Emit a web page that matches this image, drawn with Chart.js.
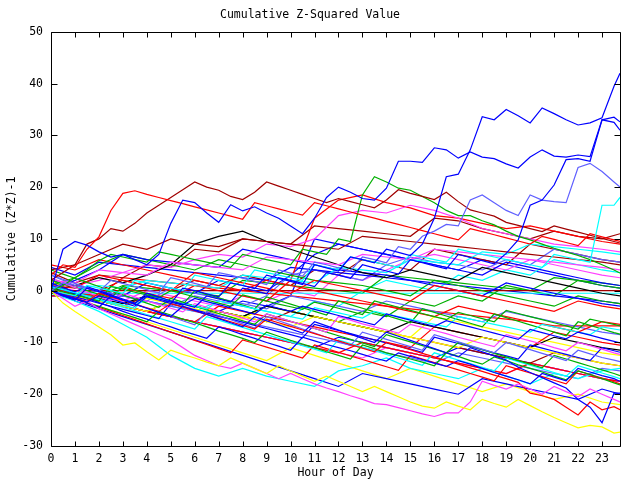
<!DOCTYPE html>
<html>
<head>
<meta charset="utf-8">
<script src="https://cdn.jsdelivr.net/npm/chart.js@4/dist/chart.umd.min.js"></script>
<style>
  html, body { margin: 0; padding: 0; background: #fff; }
  canvas { display: block; }
</style>
</head>
<body>
<canvas id="chart" width="640" height="480"></canvas>
<script>
// x categories (hour of day)
const hourTicks = [0, 1, 2, 3, 4, 5, 6, 7, 8, 9, 10, 11, 12, 13, 14, 15, 16, 17, 18, 19, 20, 21, 22, 23];
const hourGrid = [0, 1, 2, 3, 4, 5, 6, 7, 8, 9, 10, 11, 12, 13, 14, 15, 16, 17, 18, 19, 20, 21, 22, 23, 23.75];
const halfHourGrid = [
  0, 0.5, 1, 1.5, 2, 2.5, 3, 3.5,
  4, 4.5, 5, 5.5, 6, 6.5, 7, 7.5,
  8, 8.5, 9, 9.5, 10, 10.5, 11, 11.5,
  12, 12.5, 13, 13.5, 14, 14.5, 15, 15.5,
  16, 16.5, 17, 17.5, 18, 18.5, 19, 19.5,
  20, 20.5, 21, 21.5, 22, 22.5, 23, 23.5,
  23.75
];
const yTicks = [-30, -20, -10, 0, 10, 20, 30, 40, 50];

// the most visible lines, read every half hour
const blueTop = [
  0, -0.8, -1.5, -2.2, -1, -1.6, -2.3, -3,
  -1.2, -1.8, -2.5, 0.5, 0, -0.6, -1.2, 1.5,
  1, 0.4, 3, 2.4, 1.8, 1.2, 5, 4.4,
  3.8, 6.5, 6, 5.4, 8, 7.4, 6.8, 9,
  14, 22, 22.5, 27.2, 33.6, 33, 35, 33.8,
  32.4, 35.3, 34.2, 33, 32, 32.4, 33.4, 39.5,
  42
];
const blueSecond = [
  0, 8, 9.5, 8.8, 7.5, 6.5, 7, 6,
  5, 7, 13, 17.5, 17, 15, 13.2, 16.6,
  15.4, 16.2, 15, 14, 12.5, 11, 14, 18,
  20, 19, 17.8, 17.5, 19.8, 25, 25, 24.8,
  27.6, 27.2, 25.6, 26.8, 25.8, 25.5, 24.5, 23.7,
  25.8, 27.2, 26, 25.8, 26.2, 25.9, 33, 32.5,
  31
];
const blueThird = [
  0, -1, -1.8, 0.5, -0.2, -1, -1.8, -2.5,
  -0.5, -1.2, -2, -2.6, -3.2, -1, -1.6, -2.2,
  0.5, 0, -0.6, 2.5, 2, 1.4, 0.8, 3.5,
  3, 2.4, 5, 4.4, 3.8, 3.2, 6, 5.4,
  4.8, 4.2, 7, 6.4, 5.8, 5.2, 7.2, 9.8,
  16.5, 17.5, 20.4, 25.3, 25.5, 25, 33, 33.5,
  32.6
];
const slateTop = [
  0, 1.5, 1, 0.4, -0.2, 2, 1.4, 0.8,
  0.2, -0.4, 2.5, 2, 1.4, 0.8, 3.5, 3,
  2.4, 1.8, 1.2, 4, 3.4, 2.8, 5.5, 5,
  4.4, 3.8, 6.5, 6, 5.4, 8.5, 8, 10.5,
  11.5, 12.8, 12.5, 17.5, 18.5, 17, 15.5, 14.5,
  18.5, 17.5, 17.2, 17, 23.8, 24.6, 23, 21,
  20
];
const cyanJump = [
  0, -0.5, -1, 1, 0.5, 0, -0.5, 2,
  1.5, 1, 0.5, 0, 3, 2.5, 2, 1.5,
  1, 4, 3.5, 3, 2.5, 2, 5, 4.5,
  4, 6.5, 6, 5.5, 5, 4.5, 7, 6.5,
  6, 5.5, 8, 7.5, 7, 6.5, 6, 5.5,
  5, 4.5, 7, 6.5, 6, 5.5, 16.5, 16.5,
  18
];
const redTop = [
  3, 5, 4.5, 8, 10.4, 15.5, 18.8, 19.3,
  18.6, 18, 17.4, 16.8, 16.2, 15.6, 15, 14.4,
  13.8, 17, 16.4, 15.8, 15.2, 14.6, 17, 16.4,
  15.8, 15.2, 14.6, 14, 13.4, 12.8, 12.2, 11.6,
  11, 10.4, 9.8, 12, 11.4, 10.8, 10.2, 9.6,
  9, 10.5, 9.9, 9.3, 8.7, 11, 10.4, 9.8,
  9.5
];
const darkRedTop = [
  2, 3.5, 5, 9, 10, 12, 11.5, 13,
  15, 16.5, 18, 19.5, 21, 20, 19.4, 18.2,
  17.6, 19, 21, 20.2, 19.4, 18.6, 17.8, 17,
  17.8, 17.2, 16.6, 16, 17.5, 19.5, 18.8, 18.2,
  17.6, 19, 17.2, 15.6, 15, 14.4, 13.2, 12.6,
  12, 11.4, 12.5, 11.9, 11.3, 10.7, 10.1, 9.5,
  9.2
];
const greenTop = [
  0, 1, 2.5, 4, 5.8, 7, 6.5, 6,
  5.5, 7.5, 7, 6.5, 6, 5.5, 5, 4.5,
  7, 6.5, 6, 5.5, 5, 8, 7.5, 7,
  10, 9.5, 18.5, 22, 21, 19.8, 19.4, 18.2,
  17, 15.5, 14.5, 14.5, 13.5, 12.7, 11.5, 10.5,
  9.8, 9, 8.2, 7.5, 6.8, 6, 5, 4,
  3.4
];
const yellowLow = [
  0, -2.4, -4, -5.5, -7, -8.5, -10.5, -10.1,
  -11.8, -13.4, -11.5, -12.3, -13, -13.8, -14.5, -13,
  -14, -15, -16, -14.5, -15.5, -16.5, -17.5, -16.5,
  -17.5, -18.5, -19.5, -18.5, -19.5, -20.5, -21.5, -22.3,
  -22.7, -21.5, -22.3, -23, -21, -21.8, -22.5, -21,
  -22.2, -23.4, -24.5, -25.5, -26.5, -26, -26.3, -27.5,
  -27.3
];
const magentaLow = [
  0, -1.5, -3, -2, -3.5, -4.5, -5.5, -6.5,
  -7.5, -8.5, -9.5, -11, -12.5, -13.5, -14.5, -15,
  -14, -15, -16, -17, -16, -17, -18, -18.8,
  -19.5, -20.3, -21, -21.8, -22, -22.6, -23.2, -23.8,
  -24.3, -23.6, -23.6, -21.5, -17.5, -18.3, -19, -18,
  -19, -20, -18.5, -19.5, -20.5, -19, -20, -21,
  -21.5
];
const blueLow = [
  0, -0.8, -1.6, -2.4, -3.2, -1, -1.8, -2.6,
  -3.4, -4.2, -5, -3, -3.8, -4.6, -5.4, -6.2,
  -7, -5, -5.8, -6.6, -7.4, -8.2, -6, -6.8,
  -7.6, -8.4, -9.2, -10, -8, -8.8, -9.6, -10.4,
  -11.2, -12, -12.8, -11, -11.8, -12.6, -13.4, -14.8,
  -15.8, -16.8, -17.8, -18.8, -21, -22.5, -25.5, -19.8,
  -19.8
];
const redLow = [
  0, -0.7, -1.4, -2.1, -0.5, -1.2, -1.9, -2.6,
  -3.3, -4, -2.5, -3.2, -3.9, -4.6, -5.3, -6,
  -6.7, -7.4, -5.5, -6.2, -6.9, -7.6, -8.3, -9,
  -9.7, -10.4, -11.1, -11.8, -10, -10.7, -11.4, -12.1,
  -12.8, -13.5, -14.2, -14.9, -15.6, -16.3, -17, -17.7,
  -19.8, -20.3, -21, -22.5, -24, -21.5, -23, -22.4,
  -23
];

// middle of the bundle, also half-hourly
const midSeries = [
  [1.5, 0.6, -0.2, 0.8, 0, -0.8, -1.6, -2.4,
   -1, -1.6, -2.2, -2.8, -1.5, -2.1, -2.7, -3.3,
   -3.9, -4.5, -2.8, -3.4, -4, -3, -3.6, -4.2,
   -4.8, -5.4, -6, -6.6, -4.5, -5.1, -5.7, -6.3,
   -6.9, -5.8, -6.4, -7, -7.6, -8.2, -8.8, -9.4,
   -7.5, -8.1, -8.7, -9.3, -8, -8.6, -9.2, -9.8, -10.1],
  [0.5, -0.2, -0.8, -1.4, -2, 0.8, 0.3, -0.3,
   -0.8, -1.3, 0, -0.6, -1.2, -1.8, -2.4, -3,
   -0.8, -1.4, -2, -2.6, -3.1, -3.6, -2.2, -2.8,
   -3.4, -4, -4.6, -2, -2.6, -3.2, -3.8, -4.4,
   -5, -5.6, -4.2, -4.8, -5.4, -6, -3.8, -4.4,
   -5, -5.6, -6.2, -6.8, -7.4, -5.5, -6, -6.5, -6.8],
  [0.8, 0.2, -0.4, -1, -1.6, -2.2, -2.8, -3.4,
   -1, -1.5, -2, -2.5, -3, -3.5, -2, -2.5,
   -3, -3.5, -4, -4.5, -5, -5.5, -3.3, -3.8,
   -4.3, -4.8, -5.3, -4, -4.5, -5, -5.5, -6,
   -6.5, -7, -5, -5.5, -6, -6.5, -7, -7.5,
   -8, -6.5, -7, -7.5, -8, -8.5, -7, -7.4, -7.6],
  [1, 0.2, -0.6, -1.4, -2.3, -3.1, -4, -4.8,
   -5.5, -6.3, -7, -7.8, -8.5, -9.2, -7, -7.7,
   -8.5, -9.2, -10, -10.7, -11.5, -9, -9.7, -10.4,
   -11, -11.6, -12.3, -13, -13.6, -12, -12.7, -13.3,
   -14, -14.6, -13.5, -14.2, -15, -15.8, -16.5, -17.2,
   -18, -16, -16.7, -17.4, -15, -15.7, -16.4, -17, -17.5],
  [0, -0.8, -1.5, -2.3, -3, -3.8, -4.5, -5.2,
   -6, -4, -4.7, -5.5, -6.2, -7, -7.8, -8.5,
   -9.2, -10, -8, -8.8, -9.6, -10.3, -11, -11.8,
   -12.5, -13.2, -10.5, -11.2, -12, -12.6, -13.2, -13.8,
   -14.5, -12, -12.7, -13.5, -14.2, -12.8, -13.5, -14.3,
   -15, -15.7, -16.5, -17.2, -15.5, -16.2, -17, -17.8, -18.2],
  [2.5, 1.5, 0.6, -0.3, -1.2, -2, -0.5, -1.2,
   -2, -2.7, -3.4, -4.1, -2.5, -3.2, -3.9, -4.6,
   -5.3, -6, -4.5, -5.2, -5.9, -6.6, -7.3, -8,
   -5, -5.7, -6.4, -7, -7.6, -8.2, -6.5, -7.1,
   -7.7, -8.3, -9, -9.6, -10.2, -10.8, -8.5, -9.1,
   -9.7, -10.3, -11, -11.6, -10, -10.6, -11.3, -12, -12.3],
  [3, 2.2, 1.4, 0.6, -0.2, -1, -1.8, -2.6,
   -3.4, -4.2, -5, -5.8, -6.6, -4, -4.8, -5.6,
   -6.4, -7.2, -5, -5.8, -6.6, -7.4, -8.2, -9,
   -9.8, -10.6, -8, -8.7, -9.4, -10.1, -10.8, -11.5,
   -8.5, -9.2, -9.9, -10.6, -11.3, -12, -10, -10.7,
   -11.4, -12.1, -12.8, -13.5, -11.5, -12.2, -12.9, -13.4, -13.7],
  [4, 3.2, 2.4, 1.6, 0.8, 0, -0.8, -1.6,
   -2.4, -3.2, -1.5, -2.2, -3, -3.7, -4.4, -5.1,
   -5.8, -6.5, -4.5, -5.2, -5.9, -6.6, -7.3, -8,
   -8.7, -9.4, -10.1, -10.8, -8.5, -9.2, -9.9, -10.6,
   -11.3, -12, -10, -10.7, -11.4, -12.1, -12.8, -13.5,
   -14.2, -14.9, -12.5, -13.2, -13.9, -14.6, -15.3, -16, -16.4],
  [2, 1.3, 0.6, 0, -0.7, -1.4, 0.8, 0.1,
   -0.6, -1.3, -2, -2.7, 0, -0.7, -1.4, -2.1,
   -2.8, -3.5, -1.2, -1.9, -2.6, -3.3, -4, -4.7,
   -2, -2.7, -3.4, -4.1, -4.8, -5.5, -6.2, -3.5,
   -4.2, -4.9, -5.6, -6.3, -7, -4.5, -5.2, -5.9,
   -6.6, -7.3, -8, -8.7, -6, -6.7, -7.4, -8.1, -8.4],
  [0, -0.6, -1.2, -1.8, -2.4, -3, -3.6, -4.2,
   -4.8, -5.4, -2.5, -3.1, -3.7, -4.3, -4.9, -5.5,
   -6.1, -6.7, -7.3, -7.9, -8.5, -9.1, -6.5, -7.1,
   -7.7, -8.3, -8.9, -9.5, -10.1, -10.7, -11.3, -11.9,
   -9, -9.6, -10.2, -10.8, -11.4, -12, -12.6, -13.2,
   -10.5, -11.1, -11.7, -12.3, -12.9, -13.5, -11, -11.6, -11.9],
  [1, 0.3, -0.4, -1.1, -1.8, -2.5, -3.2, -3.9,
   -4.6, -5.3, -6, -6.7, -7.4, -5, -5.7, -6.4,
   -7.1, -7.8, -8.5, -9.2, -9.9, -10.6, -11.3, -12,
   -9.5, -10.2, -10.9, -11.6, -12.3, -13, -13.7, -14.4,
   -12, -12.7, -13.4, -14.1, -14.8, -15.5, -13, -13.7,
   -14.4, -15.1, -15.8, -16.5, -14.5, -15.2, -15.9, -16.6, -17],
  [0, -0.8, -1.6, -2.4, -3.2, -4, -4.8, -5.6,
   -6.4, -7.2, -8, -8.8, -9.6, -10.4, -11.2, -12,
   -9.5, -10.2, -10.9, -11.6, -12.3, -13, -10.5, -11.2,
   -11.9, -12.6, -13.3, -14, -14.7, -15.4, -12.5, -13.2,
   -13.9, -14.6, -15.3, -16, -16.7, -17.4, -14.5, -15.2,
   -15.9, -16.6, -17.3, -18, -15.5, -16.2, -16.9, -17.6, -18]
];

const halfHourSeries = [blueTop, blueSecond, blueThird, slateTop, cyanJump, redTop,
  darkRedTop, greenTop, yellowLow, magentaLow, blueLow, redLow, ...midSeries];
const halfHourColors = ["blue", "blue", "blue", "slate", "cyan", "red",
  "darkred", "green", "yellow", "magenta", "blue", "red",
  "blue", "green", "cyan", "blue", "green", "magenta", "slate", "green", "green", "blue", "cyan", "red"];

// the rest of the bundle, read once an hour
const hourlySeries = [
  [1, 0.5, 3, 2, 1, 0, 3.5, 2.5, 1.5, 0.5, -0.5, 2, 1, 0, -1, -2, 1, 0, -1, -2, -3, -4, -2, -3, -3.5],
  [2, 1.5, 4, 3.5, 3, 5.5, 5, 4.5, 4, 6.5, 6, 5.5, 5, 7, 6.5, 6, 8, 7.5, 7, 6.5, 6, 5.5, 5, 4.5, 4],
  [4, 5, 7, 9, 8, 10, 9, 8.5, 10, 9.5, 9, 8.5, 8, 10.5, 10, 9.5, 9, 8.5, 8, 7.5, 7, 6.5, 6, 5.5, 5],
  [0, -1, -2, -3, -4, -2, -3, -4, -5, -6, -7, -5, -6, -7, -8, -9, -10, -11, -9, -10, -11, -12, -13, -14, -14.5],
  [0, 1, 2.5, 1.5, 3, 5, 9, 10.5, 11.5, 9.5, 8, 6.5, 5, 3.5, 2.5, 4, 3, 2, 4.5, 3.5, 2.5, 1.5, 0.5, -0.5, -1],
  [-0.5, -0.5, -1.5, -2.5, -1, -2, -3, -4, -5, -3, -4, -5, -6, -7, -8, -6, -7, -8, -9, -10, -11, -9, -10, -11, -11.5],
  [0.5, 2, 4, 7, 6, 5.5, 5, 4.5, 8, 7, 6, 5, 4, 3.5, 3, 2, 1, 0, -1, 1.5, 0.5, -0.5, -1.5, -2.5, -3],
  [1, -1, -2, -3, -4, -5, -6, -3, -4, -5, -6, -7, -8, -9, -10, -11, -7, -8, -9, -10, -11, -8, -9, -10, -10.5],
  [-0.5, -2, -4, -6.5, -9, -12.5, -15, -16.5, -15, -16.5, -17.5, -18.5, -15.5, -14.5, -13, -15, -16, -17, -15, -16.5, -18, -16, -17, -15.5, -15],
  [0, -2, -3.5, -5, -6.5, -8, -9.5, -11, -12.5, -14, -15.5, -17, -18.5, -16, -17, -18, -19, -20, -17, -18, -19, -20, -21, -19, -20],
  [1, 2.5, 5, 7, 6, 5, 4, 6, 5, 4, 3, 2, 1.5, 1, 0, -1, 2, 1, 0, -1, -2, -3, -1, -2, -2.5],
  [5, 4, 6, 5, 4, 3, 2, 1, 0, 2, 1, 0, -1, -2, -3, -4, -5, -3, -4, -5, -6, -7, -8, -6, -6.5],
  [2, -1, -2, -3, -1.5, -2.5, -3.5, -4.5, -5.5, -3, -4, -5, -6, -7, -8, -9, -5, -6, -7, -8, -9, -10, -11, -12, -12.5],
  [0, -1.5, -3, -4.5, -6, -7.5, -9, -10.5, -12, -13.5, -11, -12.5, -14, -15.5, -17, -15, -16.5, -18, -19.5, -18, -19.5, -21, -20, -21.5, -22],
  [3, 1, 0, -1, -2, 0.5, -0.5, -1.5, -2.5, -3.5, -1, -2, -3, -4, -2, -3, -4, -5, -6, -4, -5, -6, -7, -8, -8.5],
  [2, -1, -2, -3, -1, -2, -3, -4, -5, -6, -4, -5, -6, -7, -8, -9, -10, -11, -12, -13, -14, -12, -13, -14, -14.5],
  [-1, -1, -2, -3, -4, -5, -6, -7, -8, -9, -10, -11, -12, -10, -11, -12, -13, -14, -15, -16, -14, -15, -16, -17, -17.5],
  [1, 1, 2, 3.5, 5, 4.5, 6, 7, 6.5, 9, 8.5, 10, 14.5, 15.5, 15, 16.5, 15.5, 14, 12, 11, 10, 9, 8.5, 8, 7.5],
  [2.5, 0.5, 1, 0.5, 2, 1.5, 1, 0.5, 3, 2.5, 2, 1.5, 4.5, 4, 3.5, 6, 5.5, 5, 7.5, 7, 9, 8.5, 8, 7.5, 7],
  [1.5, -1, -2, 0.5, -0.5, -1.5, 1, 0, -1, -2, 2, 14, 17.5, 18.5, 17, 16, 14.5, 14, 13, 12, 12.5, 11.5, 10.5, 9.5, 9],
  [3.5, 1.5, 3, 2.5, 5, 4.5, 8, 7.5, 10, 9.5, 9, 12.5, 12, 11.5, 11, 10.5, 14, 13.5, 12, 11, 10, 11.5, 10.5, 10, 11],
  [2, 1, 0, -1, 1.5, 0.5, -0.5, 2, 1, 0, 3, 7, 9, 8, 7, 6, 5, 4, 3, 5.5, 4.5, 3.5, 2.5, 1.5, 1],
  [-0.5, -1, -2, -3, -4, -5, -6, -7, -8, -9, -10, -11, -12, -13, -11, -12, -13, -14, -15, -16, -14, -15, -16, -17, -17.5],
  [0, -0.5, -1, 2.5, 2, 1.5, 1, 0.5, 0, -0.5, -1, -1.5, -2, -2.5, -3, -3.5, -4, -4.5, -5, -5.5, -6, -6.8, -6.8, -6.8, -6.8],
  [0, -0.5, -0.5, -0.5, -0.5, -0.5, -0.5, -0.5, -0.5, -0.5, -0.5, -0.5, -0.5, -0.5, -0.5, -0.5, -0.5, -0.5, -0.5, -0.5, -0.5, -0.5, -0.5, -0.5, -0.5],
  [0, 0, 0, 0, 0, 0, 0, 0, 0, 0, 0, 0, 0, 0, 0, 0, 0, 0, 0, 0, 0, 0, 0, 0, 0],
  [4.5, 3, 5.5, 5, 4.5, 4, 3.5, 3, 2.5, 2, 4.5, 4, 3.5, 3, 2.5, 2, 1.5, 1, 0.5, 0, -0.5, -1, -1.5, -2, -2.5],
  [1, -1, 0, -1, -2, -3, -4, -5, -6, -7, -8, -9, -10, -11, -12, -13, -14, -12, -13, -14, -15, -16, -17, -15, -15.5],
  [2, -0.5, -1, 1, 0.5, 0, -0.5, -1, 2, 1.5, 1, 0.5, 0, -0.5, 3, 2.5, 2, 1.5, 1, 0.5, 0, 2.5, 2, 1.5, 1],
  [-1, -1, -2, -3, -4, -5, -6, -7, -8, -9, -10, -11, -9, -10, -11, -12, -13, -11, -12, -13, -14, -15, -16, -17, -17.5],
  [0, -1, -2, -1, -2, -3, -1, -2, -3, -1, 3, 4, 3, 2, 5, 6.5, 5.5, 5, 4, 6, 5, 8, 7, 6, 5.5],
  [1, 0, -1, -2, 0, -1, -2, -3, -1, -2, 0, -1, 3, 2, 4, 6, 7, 6, 5, 4, 6, 5, 4, 3, 2.5],
  [0, -1, -2, -3, -2, -3, -4, -2, -3, -4, -5, -2, -3, 0, 2, 1, 0, 3, 2, 4, 3, 6, 5, 4, 3.5],
  [0, 1, 0, 2, 1, 0, 2, 1, 3, 2, 1, 4, 3, 6, 5, 4, 8, 7, 6, 5, 9, 8, 7, 6, 5.5],
  [0, -1, -2, -3, -4, -2, -3, -4, -5, -3, -4, -5, -6, -4, -5, -2, -3, -1, -2, 1, 0, -1, 2, 1, 0.5],
  [0, -1, -2, -3, -1, -2, -3, -4, -2, -3, -1, 10, 9, 8, 7, 6, 5, 4, 6, 5, 4, 3, 2, 1, 0.5]
];
const hourlyColors = ["red", "magenta", "darkred", "yellow", "black", "black", "blue", "red",
  "cyan", "blue", "green", "red", "yellow", "yellow", "slate", "darkred", "red", "magenta",
  "cyan", "red", "darkred", "blue", "magenta", "red", "cyan", "darkred", "blue", "slate",
  "green", "blue", "slate", "magenta", "cyan", "darkred", "green", "blue"];

const palette = {
  red: "#ff0000",
  green: "#00b000",
  blue: "#0000ff",
  magenta: "#ff40ff",
  cyan: "#00ffff",
  darkred: "#a00000",
  yellow: "#ffff00",
  black: "#000000",
  slate: "#6060ff",
};

const monoFont = { family: '"DejaVu Sans Mono", monospace', size: 11.5, weight: "normal" };

function toPoints(grid, values) {
  return values.map((v, i) => ({ x: grid[i], y: v }));
}

function makeDataset(grid, values, colorName) {
  return {
    data: toPoints(grid, values),
    borderColor: palette[colorName],
    borderWidth: 1.2,
    pointRadius: 0,
    tension: 0,
    fill: false,
  };
}

const datasets = [
  ...halfHourSeries.map((s, i) => makeDataset(halfHourGrid, s, halfHourColors[i])),
  ...hourlySeries.map((s, i) => makeDataset(hourGrid, s, hourlyColors[i])),
];

// border box with inward ticks, gnuplot style
const frameTicks = {
  id: "frameTicks",
  afterDatasetsDraw(chart) {
    const { ctx, chartArea: a, scales } = chart;
    ctx.save();
    ctx.strokeStyle = "#000";
    ctx.lineWidth = 1;
    ctx.beginPath();
    const L = Math.round(a.left) + 0.5, R = Math.round(a.right) + 0.5;
    const T = Math.round(a.top) + 0.5, B = Math.round(a.bottom) + 0.5;
    ctx.rect(L, T, R - L, B - T);
    scales.x.ticks.forEach((t) => {
      const px = Math.round(scales.x.getPixelForValue(t.value)) + 0.5;
      ctx.moveTo(px, B); ctx.lineTo(px, B - 5);
      ctx.moveTo(px, T); ctx.lineTo(px, T + 5);
    });
    scales.y.ticks.forEach((t) => {
      const py = Math.round(scales.y.getPixelForValue(t.value)) + 0.5;
      ctx.moveTo(L, py); ctx.lineTo(L + 6, py);
      ctx.moveTo(R, py); ctx.lineTo(R - 6, py);
    });
    ctx.stroke();
    ctx.restore();
  },
};

new Chart(document.getElementById("chart"), {
  type: "line",
  data: { datasets },
  options: {
    responsive: false,
    animation: false,
    devicePixelRatio: 1,
    layout: { padding: { left: 0, right: 20, top: 0, bottom: 0 } },
    plugins: {
      legend: { display: false },
      tooltip: { enabled: false },
      title: {
        display: true,
        text: "Cumulative Z-Squared Value",
        color: "#000",
        font: monoFont,
        padding: { top: 8, bottom: 10 },
      },
    },
    scales: {
      x: {
        type: "linear",
        min: 0,
        max: 23.75,
        afterBuildTicks: (scale) => {
          scale.ticks = hourTicks.map((v) => ({ value: v }));
        },
        afterFit: (scale) => { scale.height = 34; },
        ticks: { color: "#000", font: monoFont, padding: 6, autoSkip: false, maxRotation: 0 },
        grid: { display: false, drawTicks: false },
        border: { display: false },
        title: { display: true, text: "Hour of Day", color: "#000", font: monoFont, padding: { top: 0, bottom: 0 } },
      },
      y: {
        min: -30,
        max: 50,
        afterBuildTicks: (scale) => {
          scale.ticks = yTicks.map((v) => ({ value: v }));
        },
        afterFit: (scale) => { scale.width = 51; },
        ticks: { color: "#000", font: monoFont, padding: 8 },
        grid: { display: false, drawTicks: false },
        border: { display: false },
        title: { display: true, text: "Cumulative (Z*Z)-1", color: "#000", font: monoFont, padding: { top: 5, bottom: 0 } },
      },
    },
  },
  plugins: [frameTicks],
});
</script>
</body>
</html>
